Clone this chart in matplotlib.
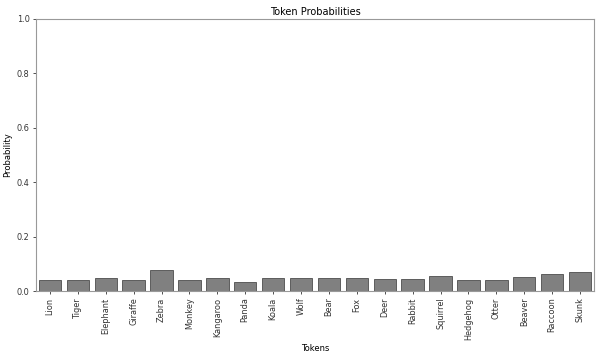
import matplotlib.pyplot as plt
import numpy as np

tokens = ["Lion", "Tiger", "Elephant", "Giraffe", "Zebra", "Monkey", "Kangaroo", "Panda",
          "Koala", "Wolf", "Bear", "Fox", "Deer", "Rabbit", "Squirrel", "Hedgehog",
          "Otter", "Beaver", "Raccoon", "Skunk"]
probs = [0.042, 0.040, 0.047, 0.042, 0.079, 0.042, 0.047, 0.033, 0.047, 0.049,
         0.049, 0.049, 0.044, 0.044, 0.054, 0.042, 0.042, 0.051, 0.061, 0.071]

fig, ax = plt.subplots(figsize=(6, 3.58), dpi=100)
fig.subplots_adjust(left=0.06, right=0.99, top=0.947, bottom=0.187)

x = np.arange(len(tokens))
ax.bar(x, probs, width=0.8, color="#808080", edgecolor="#4d4d4d", linewidth=0.6)
ax.set_xlim(-0.5, len(tokens) - 0.5)
ax.set_ylim(0, 1.0)
ax.set_xticks(x)
ax.set_xticklabels(tokens, rotation=90, fontsize=5.9)
ax.set_yticks([0.0, 0.2, 0.4, 0.6, 0.8, 1.0])
ax.tick_params(axis="y", labelsize=5.9)
ax.tick_params(colors="#333333", length=2.2, width=0.6, pad=2.5)
for s in ax.spines.values():
    s.set_color("#999999")
    s.set_linewidth(0.8)

ax.set_title("Token Probabilities", fontsize=7, pad=3)
ax.set_xlabel("Tokens", fontsize=6, labelpad=3)
ax.set_ylabel("Probability", fontsize=6, labelpad=3)

plt.savefig("out.png")
